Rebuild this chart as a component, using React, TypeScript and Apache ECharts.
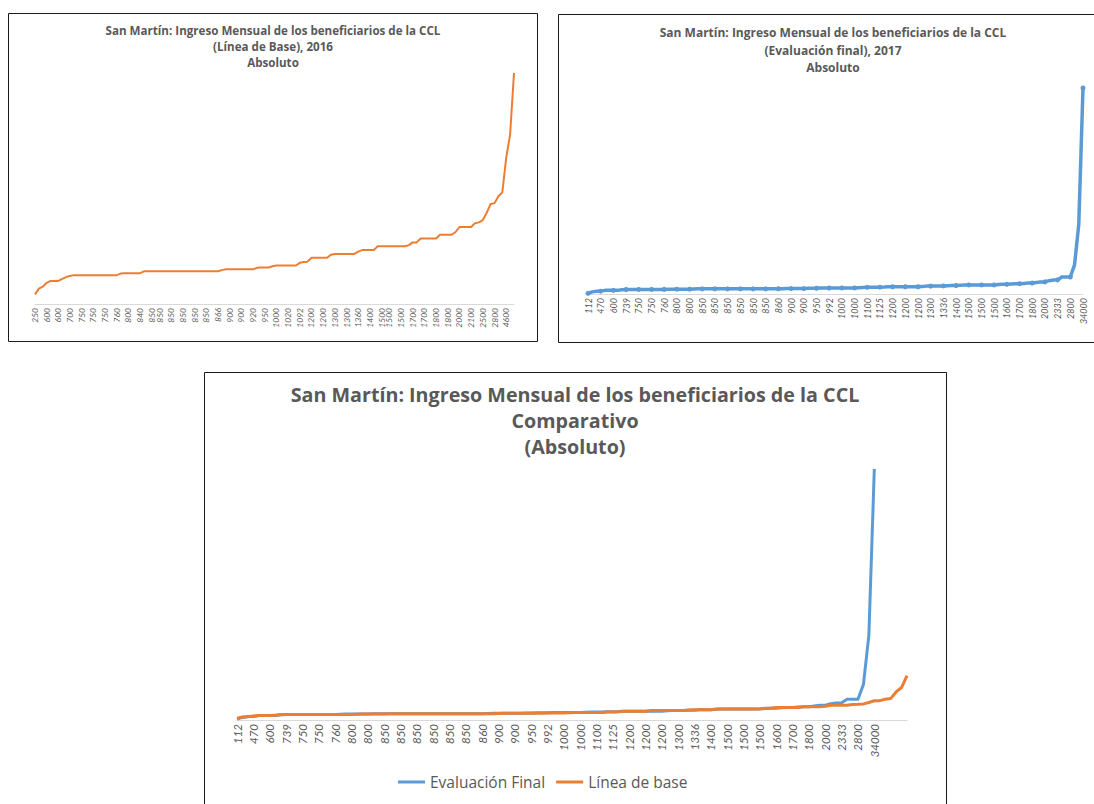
import React, { useEffect, useRef } from 'react';
import * as echarts from 'echarts';

// Tick labels of the 2016 baseline chart (every ~3rd sorted income)
const baseLabels2016 = [
  '250', '600', '600', '700', '750', '750', '750', '760', '800', '840',
  '850', '850', '850', '850', '850', '850', '866', '900', '900', '920',
  '950', '1000', '1020', '1092', '1200', '1200', '1300', '1300', '1360', '1400',
  '1500', '1500', '1500', '1700', '1700', '1800', '1800', '2000', '2100', '2500',
  '2800', '4600',
];

// Línea de base (2016), sorted monthly income (sampled)
const baseValues = [
  250, 400, 450, 550, 600, 600, 600, 650, 700, 730,
  750, 750, 750, 750, 750, 750, 750, 750, 750, 750,
  750, 750, 790, 800, 800, 800, 800, 800, 850, 850,
  850, 850, 850, 850, 850, 850, 850, 850, 850, 850,
  850, 850, 850, 850, 850, 850, 850, 850, 880, 900,
  900, 900, 900, 900, 900, 900, 900, 940, 950, 950,
  950, 980, 1000, 1000, 1000, 1000, 1000, 1000, 1070, 1090,
  1100, 1200, 1200, 1200, 1200, 1200, 1280, 1300, 1300, 1300,
  1300, 1300, 1300, 1360, 1400, 1400, 1400, 1400, 1500, 1500,
  1500, 1500, 1500, 1500, 1500, 1500, 1530, 1600, 1600, 1700,
  1700, 1700, 1700, 1700, 1800, 1800, 1800, 1800, 1870, 2000,
  2000, 2000, 2000, 2100, 2120, 2180, 2370, 2600, 2620, 2800,
  2900, 3800, 4400, 6000,
];

// Evaluación final (2017), sorted monthly income (sampled; every 3rd is a tick label)
const finalValues = [
  112, 350, 470, 470, 600, 600, 600, 600, 700, 739,
  750, 750, 750, 750, 750, 750, 750, 760, 760, 780,
  800, 800, 800, 800, 800, 830, 850, 850, 850, 850,
  850, 850, 850, 850, 850, 850, 850, 850, 850, 850,
  850, 850, 850, 850, 855, 860, 880, 900, 900, 900,
  900, 900, 930, 950, 950, 970, 990, 992, 1000, 1000,
  1000, 1000, 1000, 1000, 1050, 1080, 1100, 1100, 1120, 1125,
  1150, 1200, 1200, 1200, 1200, 1200, 1200, 1200, 1200, 1250,
  1300, 1300, 1300, 1320, 1336, 1380, 1400, 1400, 1450, 1500,
  1500, 1500, 1500, 1500, 1500, 1500, 1500, 1550, 1600, 1600,
  1650, 1700, 1700, 1750, 1800, 1800, 1900, 2000, 2000, 2200,
  2300, 2333, 2800, 2800, 2800, 4800, 11500, 34000,
];

const titles = [
  'San Martín: Ingreso Mensual de los beneficiarios de la CCL\n(Línea de Base), 2016\nAbsoluto',
  'San Martín: Ingreso Mensual de los beneficiarios de la CCL\n(Evaluación final), 2017\nAbsoluto',
  'San Martín: Ingreso Mensual de los beneficiarios de la CCL\nComparativo\n(Absoluto)',
];
const legendNames = ['Evaluación Final', 'Línea de base'];

const BLUE = '#5B9BD5';
const ORANGE = '#ED7D31';
const GREY = '#595959';
const TITLE_FONT = '"Open Sans", "Noto Sans", sans-serif';
const FONT = 'Lato, "Open Sans", sans-serif';

export default function App() {
  const ref = useRef<HTMLDivElement>(null);

  useEffect(() => {
    if (!ref.current) return;
    const chart = echarts.init(ref.current, null, { renderer: 'svg' });

    const n = baseValues.length;
    const lastLabelIdx = n - 3;
    const topLeftCats: string[] = new Array(n).fill('');
    baseLabels2016.forEach((l, j) => {
      topLeftCats[Math.round((j * lastLabelIdx) / (baseLabels2016.length - 1))] = l;
    });
    const finalCats = finalValues.map(String);
    const compCats = finalCats.concat(new Array(n - finalValues.length).fill(''));

    const axisLine = { show: true, lineStyle: { color: '#d9d9d9', width: 1 } };
    const labelBase = {
      rotate: 90,
      fontStyle: 'italic',
      color: GREY,
      fontFamily: FONT,
      margin: 4,
    };

    const option: any = {
      animation: false,
      backgroundColor: '#ffffff',
      title: [
        {
          text: titles[0], left: 273, top: 22, textAlign: 'center', padding: 0,
          textStyle: { fontFamily: TITLE_FONT, fontWeight: 'bold', fontSize: 11.6, lineHeight: 16, color: GREY },
        },
        {
          text: titles[1], left: 833, top: 24, textAlign: 'center', padding: 0,
          textStyle: { fontFamily: TITLE_FONT, fontWeight: 'bold', fontSize: 12, lineHeight: 17.5, color: GREY },
        },
        {
          text: titles[2], left: 575, top: 381, textAlign: 'center', padding: 0,
          textStyle: { fontFamily: TITLE_FONT, fontWeight: 'bold', fontSize: 19.7, lineHeight: 26, color: GREY },
        },
      ],
      legend: {
        data: legendNames,
        left: 398,
        top: 774,
        padding: 0,
        icon: 'rect',
        itemWidth: 27,
        itemHeight: 3,
        itemGap: 11,
        textStyle: { fontFamily: TITLE_FONT, fontSize: 15.5, color: GREY },
      },
      grid: [
        { left: 35, top: 73, width: 479, height: 231 },
        { left: 588, top: 88, width: 495, height: 206 },
        { left: 237, top: 469, width: 670, height: 251 },
      ],
      xAxis: [
        {
          type: 'category', gridIndex: 0, data: topLeftCats, boundaryGap: false,
          axisLine, axisTick: { show: false },
          axisLabel: { ...labelBase, interval: 0, fontSize: 8.5 },
        },
        {
          type: 'category', gridIndex: 1, data: finalCats, boundaryGap: false,
          axisLine, axisTick: { show: false },
          axisLabel: { ...labelBase, interval: 2, fontSize: 9 },
        },
        {
          type: 'category', gridIndex: 2, data: compCats, boundaryGap: false,
          axisLine, axisTick: { show: false },
          axisLabel: { ...labelBase, interval: 2, fontSize: 11.5 },
        },
      ],
      yAxis: [
        { type: 'value', gridIndex: 0, min: 0, max: 6000, show: false, splitLine: { show: false } },
        { type: 'value', gridIndex: 1, min: 0, max: 34000, show: false, splitLine: { show: false } },
        { type: 'value', gridIndex: 2, min: 0, max: 34000, show: false, splitLine: { show: false } },
      ],
      series: [
        {
          name: 'Línea de Base 2016', type: 'line', xAxisIndex: 0, yAxisIndex: 0,
          data: baseValues, showSymbol: false, symbol: 'none',
          lineStyle: { color: ORANGE, width: 2, join: 'round' }, itemStyle: { color: ORANGE },
        },
        {
          name: 'Evaluación final 2017', type: 'line', xAxisIndex: 1, yAxisIndex: 1,
          data: finalValues, symbol: 'circle', symbolSize: 5, showSymbol: true,
          lineStyle: { color: BLUE, width: 3.5, join: 'round' }, itemStyle: { color: BLUE },
        },
        {
          name: legendNames[0], type: 'line', xAxisIndex: 2, yAxisIndex: 2,
          data: finalValues, showSymbol: false, symbol: 'none',
          lineStyle: { color: BLUE, width: 3, join: 'round' }, itemStyle: { color: BLUE },
        },
        {
          name: legendNames[1], type: 'line', xAxisIndex: 2, yAxisIndex: 2,
          data: baseValues, showSymbol: false, symbol: 'none',
          lineStyle: { color: ORANGE, width: 3, join: 'round' }, itemStyle: { color: ORANGE },
        },
      ],
      graphic: [
        { type: 'rect', silent: true, z: -1, shape: { x: 8.5, y: 13.5, width: 529, height: 328 }, style: { fill: 'none', stroke: '#1a1a1a', lineWidth: 1 } },
        { type: 'rect', silent: true, z: -1, shape: { x: 558.5, y: 14.5, width: 560, height: 328 }, style: { fill: 'none', stroke: '#1a1a1a', lineWidth: 1 } },
        { type: 'rect', silent: true, z: -1, shape: { x: 204.5, y: 372.5, width: 742, height: 460 }, style: { fill: 'none', stroke: '#1a1a1a', lineWidth: 1 } },
      ],
    };

    chart.setOption(option);
    return () => chart.dispose();
  }, []);

  return (
    <div
      ref={ref}
      style={{ position: 'absolute', left: 0, top: 0, width: 1094, height: 804, background: '#ffffff', overflow: 'hidden' }}
    />
  );
}
